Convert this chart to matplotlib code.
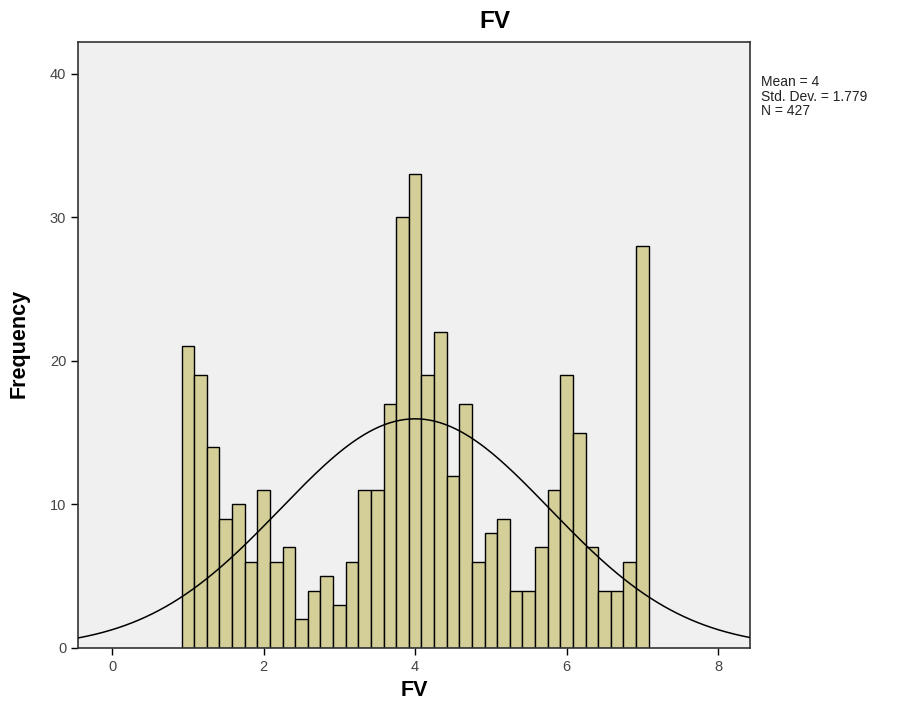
import numpy as np
import matplotlib
matplotlib.use("Agg")
import matplotlib.pyplot as plt

plt.rcParams['font.family'] = ['Liberation Sans', 'DejaVu Sans']

# Data
bin_centers = [1 + i / 6 for i in range(37)]
counts = [21, 19, 14, 9, 10, 6, 11, 6, 7, 2, 4, 5, 3, 6, 11, 11, 17, 30, 33, 19,
          22, 12, 17, 6, 8, 9, 4, 4, 7, 11, 19, 15, 7, 4, 4, 6, 28]
bin_width = 1 / 6
mean_val = 4.0
std_val = 1.779
n_val = 427
x_ticks = [0, 2, 4, 6, 8]
y_ticks = [0, 10, 20, 30, 40]

fig = plt.figure(figsize=(9.01, 7.18), dpi=100)
ax = fig.add_axes([0.0866, 0.0975, 0.7458, 0.844])
ax.set_facecolor('#F0F0F0')

ax.bar(bin_centers, counts, width=bin_width, color='#D4CF98',
       edgecolor='black', linewidth=1.0, align='center', zorder=2)

xs = np.linspace(-0.45, 8.42, 400)
pdf = n_val * bin_width * np.exp(-0.5 * ((xs - mean_val) / std_val) ** 2) / (std_val * np.sqrt(2 * np.pi))
ax.plot(xs, pdf, color='black', linewidth=1.1, zorder=3)

ax.set_xlim(-0.45, 8.42)
ax.set_ylim(0, 42.2)
ax.set_xticks(x_ticks)
ax.set_yticks(y_ticks)
ax.tick_params(direction='out', length=5, width=1, labelsize=10.5, labelcolor='#444444')
for s in ax.spines.values():
    s.set_linewidth(1.2)
    s.set_color('#333333')

fig.text(495 / 901, 1 - 21 / 718, 'FV', fontsize=17.5, fontweight='bold',
         ha='center', va='center')
fig.text(414 / 901, 1 - 690 / 718, 'FV', fontsize=15.5, fontweight='bold',
         ha='center', va='center')
fig.text(19 / 901, 1 - 343 / 718, 'Frequency', fontsize=15.5, fontweight='bold',
         ha='center', va='center', rotation=90)

fig.text(761 / 901, 1 - 75 / 718, 'Mean = 4\nStd. Dev. = 1.779\nN = 427', fontsize=10,
         va='top', ha='left', linespacing=1.05, color='#222222')

fig.savefig('out.png', dpi=100)
